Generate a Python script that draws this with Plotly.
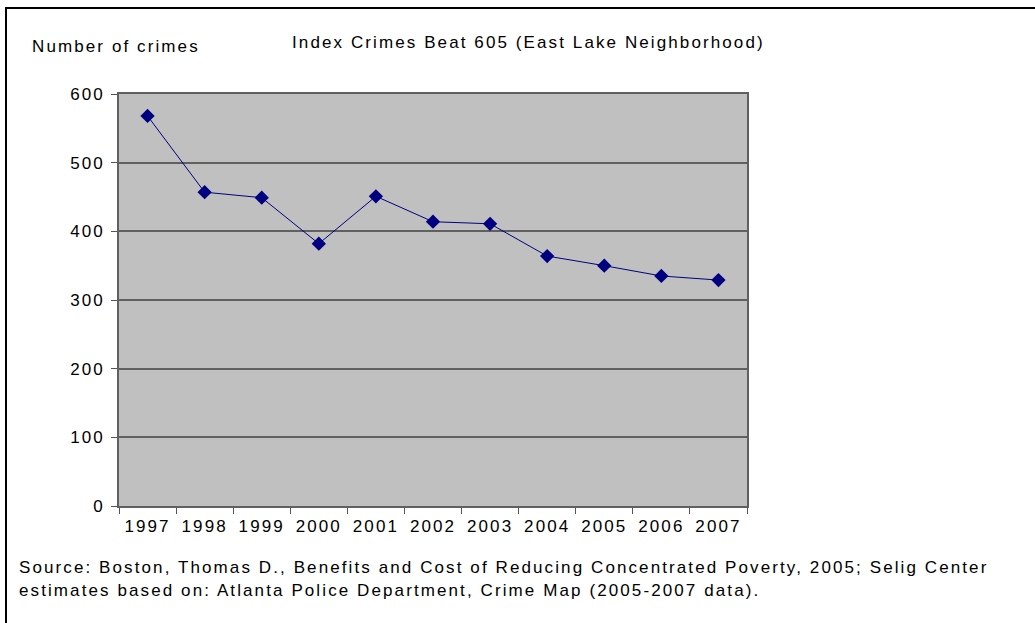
import plotly.graph_objects as go

years = ["1997", "1998", "1999", "2000", "2001", "2002", "2003", "2004", "2005", "2006", "2007"]
crimes = [568, 457, 449, 382, 451, 414, 411, 364, 350, 335, 329]
y_ticks = [0, 100, 200, 300, 400, 500, 600]

title_text = "Index Crimes Beat 605 (East Lake Neighborhood)"
y_label_text = "Number of crimes"
source_lines = [
    "Source: Boston, Thomas D., Benefits and Cost of Reducing Concentrated Poverty, 2005; Selig Center",
    "estimates based on: Atlanta Police Department, Crime Map (2005-2007 data).",
]

W, H = 1035, 623
L, R, T, B = 119, 747, 94, 506
FONT = "Liberation Sans, Arial, sans-serif"
FS = 17


def px(x):
    return (x - L) / (R - L)


def py(y):
    return (B - y) / (B - T)


fig = go.Figure()
fig.add_trace(go.Scatter(
    x=years, y=crimes, mode="lines+markers",
    line=dict(color="#000080", width=1),
    marker=dict(symbol="diamond", size=11, color="#000080"),
    showlegend=False, hoverinfo="x+y",
))

fig.update_layout(
    width=W, height=H,
    margin=dict(l=L, r=W - R, t=T, b=H - B, autoexpand=False),
    paper_bgcolor="white", plot_bgcolor="#C0C0C0",
    font=dict(family=FONT, size=FS, color="black"),
    showlegend=False,
)
fig.update_xaxes(
    type="category", categoryorder="array", categoryarray=years,
    range=[-0.5, len(years) - 0.5],
    tickson="boundaries", ticks="outside", ticklen=6, tickwidth=1, tickcolor="#555555",
    showline=True, linecolor="#606060", linewidth=1.5, mirror=True,
    showgrid=False, zeroline=False,
    tickfont=dict(family=FONT, size=FS, color="black"),
    ticklabelstandoff=4,
)
fig.update_yaxes(
    range=[0, 600], tickvals=y_ticks, ticktext=[str(v) for v in y_ticks],
    ticks="outside", ticklen=6, tickwidth=1, tickcolor="#555555",
    showline=True, linecolor="#606060", linewidth=1.5, mirror=True,
    showgrid=True, gridcolor="#606060", gridwidth=1.5, zeroline=False,
    tickfont=dict(family=FONT, size=FS, color="black"),
    ticklabelstandoff=3,
)

ann = [
    dict(text=y_label_text, x=px(30), y=py(46)),
    dict(text=title_text, x=px(290), y=py(42)),
    dict(text=source_lines[0], x=px(17), y=py(567)),
    dict(text=source_lines[1], x=px(17), y=py(590)),
]
for a in ann:
    fig.add_annotation(xref="paper", yref="paper", showarrow=False,
                       xanchor="left", yanchor="middle", align="left",
                       font=dict(family=FONT, size=FS, color="black"), **a)

# outer frame: top and left edges
fig.add_shape(type="line", xref="paper", yref="paper",
              x0=px(5), x1=px(W), y0=py(8), y1=py(8), line=dict(color="black", width=2))
fig.add_shape(type="line", xref="paper", yref="paper",
              x0=px(6), x1=px(6), y0=py(7), y1=py(H), line=dict(color="black", width=2))

# the reference typography is letter-spaced
post = """
document.querySelectorAll('.main-svg text').forEach(function(t){
  t.style.letterSpacing = '2.1px';
});
"""
fig.write_html("out.html", post_script=post)
